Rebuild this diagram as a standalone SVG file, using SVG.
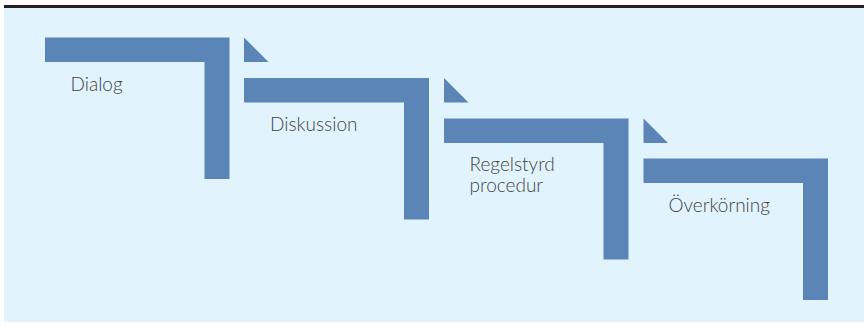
<svg xmlns="http://www.w3.org/2000/svg" width="864" height="326" viewBox="0 0 864 326">
<style>
.bar{fill:#5b84b7}
.tri{fill:#5b84b7}
.lbl{font-family:Lato,"Open Sans",sans-serif;font-weight:300;font-size:19px;fill:#444444}
</style>
<rect x="0" y="0" width="864" height="326" fill="#ffffff"/>
<rect x="4" y="8" width="860" height="314" fill="#e1f3fd"/>
<rect x="4" y="5" width="860" height="3" fill="#222222"/>
<g id="step1">
<path class="bar" d="M45 37.5H229.5V179H204.5V62H45Z"/>
<text class="lbl" x="70.5" y="91">Dialog</text>
</g>
<g id="arrows">
<polygon class="tri" points="244,37.5 244,62 268.5,62"/>
<polygon class="tri" points="444,78 444,102.5 468.5,102.5"/>
<polygon class="tri" points="643.5,118.5 643.5,143 668,143"/>
</g>
<g id="step2">
<path class="bar" d="M244 78H429V219.5H404V102.5H244Z"/>
<text class="lbl" x="270" y="131">Diskussion</text>
</g>
<g id="step3">
<path class="bar" d="M444 118.5H628.5V259.5H603.5V143H444Z"/>
<text class="lbl" x="469.5" y="171">Regelstyrd</text>
<text class="lbl" x="469.5" y="192">procedur</text>
</g>
<g id="step4">
<path class="bar" d="M643.5 158.5H828V300H803V183H643.5Z"/>
<text class="lbl" x="668.5" y="212">Överkörning</text>
</g>
</svg>
